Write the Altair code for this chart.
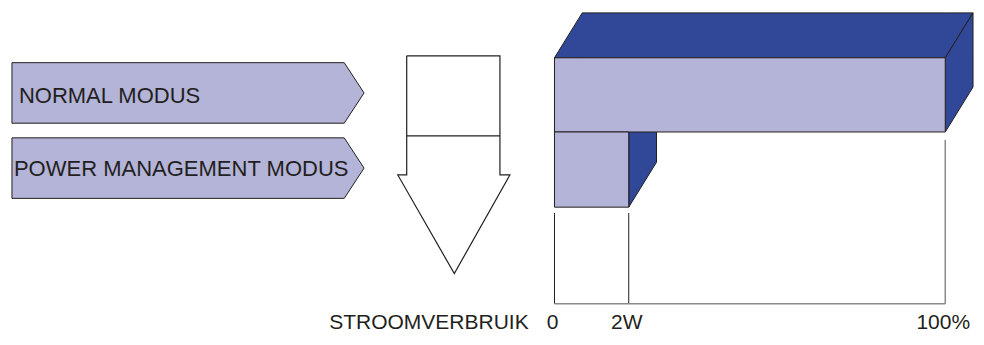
import altair as alt
import pandas as pd

# ---------------- data ----------------
modes = ["NORMAL MODUS", "POWER MANAGEMENT MODUS"]
consumption = [100, 19]            # position on the consumption scale (100% / 2W)
tick_values = [0, 19, 100]
tick_labels = ["0", "2W", "100%"]
axis_title = "STROOMVERBRUIK"

# ---------------- styles ----------------
LIGHT = "#b3b4d7"
DARK = "#314797"
OUT = "#231f20"
GREY = "#8a8a8a"
TEXT = "#231f20"
FONT = "Liberation Sans"

# ---------------- layout (page pixels) ----------------
W, H = 968, 329
PXD = [8, 984]
PYD = [10, 347]
kx = W / (PXD[1] - PXD[0])


def cx(X):
    return (X - PXD[0]) * kx


XP = alt.Scale(domain=PXD, range=[0, W])
YP = alt.Scale(domain=PYD, range=[0, H])

BAR_X0, BAR_X100 = 559, 953
XB = alt.Scale(domain=[0, 100], range=[cx(BAR_X0), cx(BAR_X100)])
DEPTH_X = 28 / (BAR_X100 - BAR_X0) * 100
DEPTH_Y = -46
bar_top = [61, 137]
bar_bottom = [137, 214]

# left arrow labels geometry
arrow_left, arrow_body, arrow_tip = 12, 347, 367
arrow_top = [66, 143]
arrow_bottom = [128, 205]
label_x = [19, 14]
label_y = [107, 182]
LABEL_BASE = 339

# ---------------- pixel group ----------------
rows = []
for i, m in enumerate(modes):
    mid = (arrow_top[i] + arrow_bottom[i]) / 2
    rows += [
        dict(mode=m, x=arrow_left, y=arrow_top[i], y2=arrow_bottom[i]),
        dict(mode=m, x=arrow_body, y=arrow_top[i], y2=arrow_bottom[i]),
        dict(mode=m, x=arrow_tip, y=mid, y2=mid),
    ]
arrows = alt.Chart(pd.DataFrame(rows)).mark_area(
    orient="vertical", fill=LIGHT, stroke=OUT, strokeWidth=1, opacity=1
).encode(
    x=alt.X("x:Q", scale=XP, axis=None),
    y=alt.Y("y:Q", scale=YP, axis=None),
    y2="y2:Q",
    detail="mode:N",
)

labels = alt.Chart(pd.DataFrame(dict(mode=modes, x=label_x, y=label_y))).mark_text(
    align="left", baseline="alphabetic", fontSize=22, font=FONT, color=TEXT
).encode(
    x=alt.X("x:Q", scale=XP, axis=None),
    y=alt.Y("y:Q", scale=YP, axis=None),
    text="mode:N",
)

down_pts = [(410, 59), (504, 59), (504, 181), (514, 181), (458, 282),
            (401, 181), (410, 181), (410, 59)]
drows = [dict(part="outline", o=i, x=p[0], y=p[1]) for i, p in enumerate(down_pts)]
drows += [dict(part="mid", o=0, x=410, y=141), dict(part="mid", o=1, x=504, y=141)]
down = alt.Chart(pd.DataFrame(drows)).mark_line(color=OUT, strokeWidth=1.2).encode(
    x=alt.X("x:Q", scale=XP, axis=None),
    y=alt.Y("y:Q", scale=YP, axis=None),
    order="o:Q",
    detail="part:N",
)

pixel_group = alt.layer(arrows, labels, down)

# ---------------- bar group ----------------
full = consumption[0]
pm = consumption[1]
t0, b0 = bar_top[0], bar_bottom[0]
t1, b1 = bar_top[1], bar_bottom[1]
frows = [
    # top face
    dict(face="top", x=0, y=t0, y2=t0),
    dict(face="top", x=DEPTH_X, y=t0 + DEPTH_Y, y2=t0),
    dict(face="top", x=full, y=t0 + DEPTH_Y, y2=t0),
    dict(face="top", x=full + DEPTH_X, y=t0 + DEPTH_Y, y2=t0 + DEPTH_Y),
    # side of normal bar
    dict(face="side0", x=full, y=t0, y2=b0),
    dict(face="side0", x=full + DEPTH_X, y=t0 + DEPTH_Y, y2=b0 + DEPTH_Y),
    # side of power-management bar
    dict(face="side1", x=pm, y=t1, y2=b1),
    dict(face="side1", x=pm + DEPTH_X, y=t1 + DEPTH_Y, y2=b1 + DEPTH_Y),
]
faces = alt.Chart(pd.DataFrame(frows)).mark_area(
    orient="vertical", fill=DARK, stroke=OUT, strokeWidth=1, opacity=1
).encode(
    x=alt.X("x:Q", scale=XB, axis=None),
    y=alt.Y("y:Q", scale=YP, axis=None),
    y2="y2:Q",
    detail="face:N",
)

fronts = alt.Chart(pd.DataFrame(dict(mode=modes, start=[0, 0], value=consumption,
                                     top=bar_top, bottom=bar_bottom))).mark_rect(
    fill=LIGHT, stroke=OUT, strokeWidth=1
).encode(
    x=alt.X("start:Q", scale=XB, axis=None),
    x2="value:Q",
    y=alt.Y("top:Q", scale=YP, axis=None),
    y2="bottom:Q",
)

AXIS_Y = 313
rule_tops = [220, 220, 145]
rule_cols = [OUT, OUT, GREY]
rule_w = [1, 1, 1.5]
rules = alt.Chart(pd.DataFrame(dict(v=tick_values, top=rule_tops, bot=[AXIS_Y] * 3,
                                    col=rule_cols, w=rule_w))).mark_rule().encode(
    x=alt.X("v:Q", scale=XB, axis=None),
    y=alt.Y("top:Q", scale=YP, axis=None),
    y2="bot:Q",
    color=alt.Color("col:N", scale=None),
    strokeWidth=alt.StrokeWidth("w:Q", scale=None),
)

baseline = alt.Chart(pd.DataFrame(dict(a=[0], b=[100], y=[AXIS_Y]))).mark_rule(
    color=GREY, strokeWidth=1.5
).encode(
    x=alt.X("a:Q", scale=XB, axis=None),
    x2="b:Q",
    y=alt.Y("y:Q", scale=YP, axis=None),
)

ticks_text = alt.Chart(pd.DataFrame(dict(v=tick_values, lab=tick_labels,
                                         y=[LABEL_BASE] * 3))).mark_text(
    align="center", baseline="alphabetic", fontSize=21, font=FONT, color=TEXT, dx=-2
).encode(
    x=alt.X("v:Q", scale=XB, axis=None),
    y=alt.Y("y:Q", scale=YP, axis=None),
    text="lab:N",
)

title_text = alt.Chart(pd.DataFrame(dict(v=[0], lab=[axis_title], y=[LABEL_BASE]))).mark_text(
    align="right", baseline="alphabetic", fontSize=21, font=FONT, color=TEXT,
    dx=(533 - BAR_X0) * kx
).encode(
    x=alt.X("v:Q", scale=XB, axis=None),
    y=alt.Y("y:Q", scale=YP, axis=None),
    text="lab:N",
)

bar_group = alt.layer(faces, fronts, rules, baseline, ticks_text, title_text)

chart = alt.layer(pixel_group, bar_group).resolve_scale(x="independent").properties(
    width=W, height=H,
    autosize=alt.AutoSizeParams(type="fit", contains="padding"),
    padding=0,
    background="white",
).configure_view(strokeWidth=0)

chart.save("out.html", embed_options={"renderer": "svg", "actions": False})
